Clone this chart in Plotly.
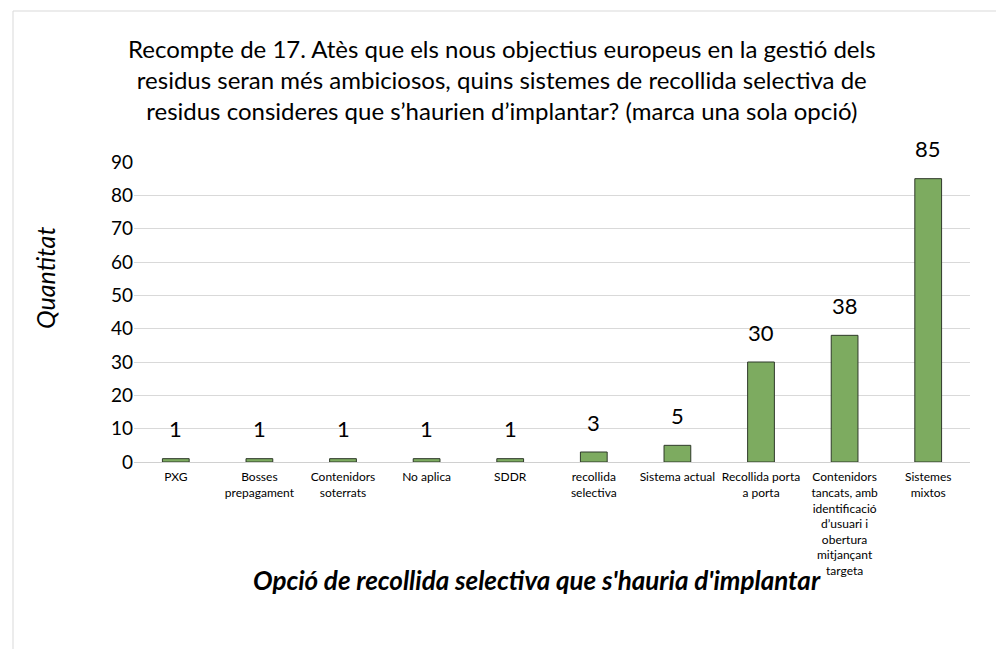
import plotly.graph_objects as go

categories = ["PXG", "Bosses<br>prepagament", "Contenidors<br>soterrats", "No aplica", "SDDR",
              "recollida<br>selectiva", "Sistema actual", "Recollida porta<br>a porta",
              "Contenidors<br>tancats, amb<br>identificació<br>d’usuari i<br>obertura<br>mitjançant<br>targeta",
              "Sistemes<br>mixtos"]
values = [1, 1, 1, 1, 1, 3, 5, 30, 38, 85]
y_ticks = [0, 10, 20, 30, 40, 50, 60, 70, 80, 90]

title_text = ("Recompte de 17. Atès que els nous objectius europeus en la gestió dels<br>"
              "residus seran més ambiciosos, quins sistemes de recollida selectiva de<br>"
              "residus consideres que s’haurien d’implantar? (marca una sola opció)")
x_title = "Opció de recollida selectiva que s'hauria d'implantar"
y_title = "Quantitat"

FONT = "Lato"
OX, OY = 8, 7  # page offset (body margin)

fig = go.Figure()
fig.add_trace(go.Bar(
    x=list(range(len(categories))), y=values,
    marker=dict(color="#7dab60", line=dict(color="#2f3a2a", width=1)),
    width=0.32,
))

W, H = 1004, 649
L, R, T, B = 134 - OX, 970 - OX, 161 - OY, 461 - OY

def px_x(p):
    return (p - OX - L) / (R - L)

def px_y(p):
    return (B - (p - OY)) / (B - T)

annotations = [
    dict(x=i, y=v, xref="x", yref="y", text=str(v), showarrow=False,
         yanchor="middle", yshift=30,
         font=dict(size=22, color="#000000", family=FONT))
    for i, v in enumerate(values)
]
annotations += [
    dict(text=title_text, x=px_x(502), y=px_y(79), xref="paper", yref="paper",
         showarrow=False, font=dict(size=24, color="#000000", family=FONT),
         align="center", xanchor="center", yanchor="middle"),
    dict(text="<b><i>" + x_title + "</i></b>", x=px_x(537), y=px_y(579),
         xref="paper", yref="paper", showarrow=False,
         font=dict(size=26, color="#000000", family=FONT),
         xanchor="center", yanchor="middle"),
    dict(text="<i>" + y_title + "</i>", x=px_x(45), y=px_y(277),
         xref="paper", yref="paper", showarrow=False, textangle=-90,
         font=dict(size=25, color="#000000", family=FONT),
         xanchor="center", yanchor="middle"),
]

fig.update_layout(
    width=W, height=H,
    margin=dict(l=L, r=W - R, t=T, b=H - B, autoexpand=False),
    paper_bgcolor="white", plot_bgcolor="white",
    font=dict(family=FONT, color="#000000"),
    showlegend=False,
    xaxis=dict(
        tickmode="array", tickvals=list(range(len(categories))), ticktext=categories,
        range=[-0.5, len(categories) - 0.5],
        tickfont=dict(size=12, color="#000000", family=FONT),
        showgrid=False, showline=True, linecolor="#d0d0d0", linewidth=1,
        ticks="", zeroline=False, tickangle=0, ticklabelstandoff=4,
    ),
    yaxis=dict(
        range=[0, 90], tickvals=y_ticks,
        tickfont=dict(size=19, color="#000000", family=FONT),
        showgrid=True, gridcolor="#d9d9d9", gridwidth=1,
        zeroline=False, showline=False, ticks="", ticklen=0,
    ),
    annotations=annotations,
    shapes=[
        dict(type="rect", xref="paper", yref="paper",
             x0=px_x(13), x1=px_x(997), y0=px_y(680), y1=px_y(10),
             line=dict(color="#d9d9d9", width=1), fillcolor="rgba(0,0,0,0)", layer="below"),
    ],
)

fig.write_html("out.html")
